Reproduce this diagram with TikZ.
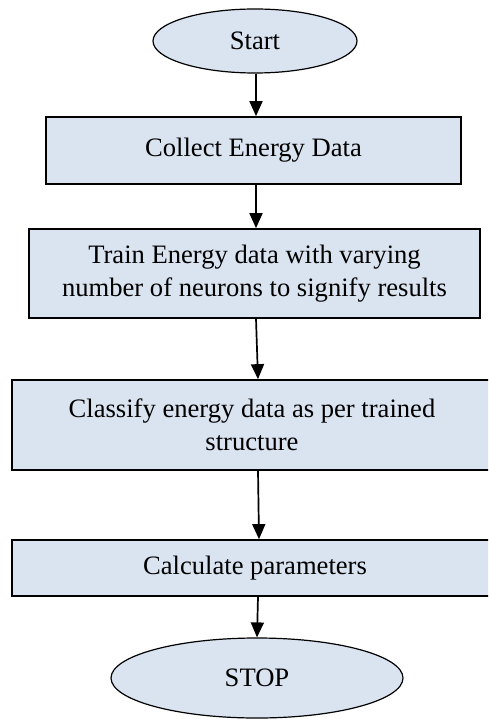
\documentclass[tikz,border=0pt]{standalone}
\usepackage{fontspec}
\setmainfont{Liberation Serif}
\usetikzlibrary{shapes.geometric,arrows.meta}
\definecolor{boxfill}{HTML}{DAE3F0}
\begin{document}
\begin{tikzpicture}[x=1pt,y=-1pt,
  lbl/.style={font=\fontsize{26.6}{33}\selectfont, align=center, text=black},
  stepbox/.style={lbl, draw=black, fill=boxfill, line width=1.7pt, rectangle, inner sep=0pt},
  term/.style={lbl, draw=black, fill=boxfill, line width=1.2pt, ellipse, inner sep=0pt},
  arr/.style={line width=1.7pt, -{Triangle[width=13pt,length=15pt]}}]
\useasboundingbox (0,0) rectangle (488,719);
\clip (0,0) rectangle (488,719);
\node[term, minimum width=204pt, minimum height=64pt] (start) at (255,41) {Start};
\node[stepbox, minimum width=415pt, minimum height=67pt] (b1) at (253.5,150.5) {Collect Energy Data};
\node[stepbox, minimum width=451pt, minimum height=89pt] (b2) at (254.5,273.5) {Train Energy data with varying\\number of neurons to signify results};
\node[stepbox, minimum width=480pt, minimum height=90pt] (b3) at (252,425) {Classify energy data as per trained\\structure};
\node[stepbox, minimum width=486pt, minimum height=56pt] (b4) at (255,568) {Calculate parameters};
\node[term, minimum width=292pt, minimum height=80pt] (stop) at (257,678) {STOP};
\draw[arr] ([xshift=1pt]start.south) -- ([xshift=2.5pt]b1.north);
\draw[arr] ([xshift=2.5pt]b1.south) -- ([xshift=1.5pt]b2.north);
\draw[arr] ([xshift=1.5pt]b2.south) -- ([xshift=6pt]b3.north);
\draw[arr] ([xshift=6pt]b3.south) -- ([xshift=4pt]b4.north);
\draw[arr] ([xshift=3pt]b4.south) -- (stop.north);
\end{tikzpicture}
\end{document}
